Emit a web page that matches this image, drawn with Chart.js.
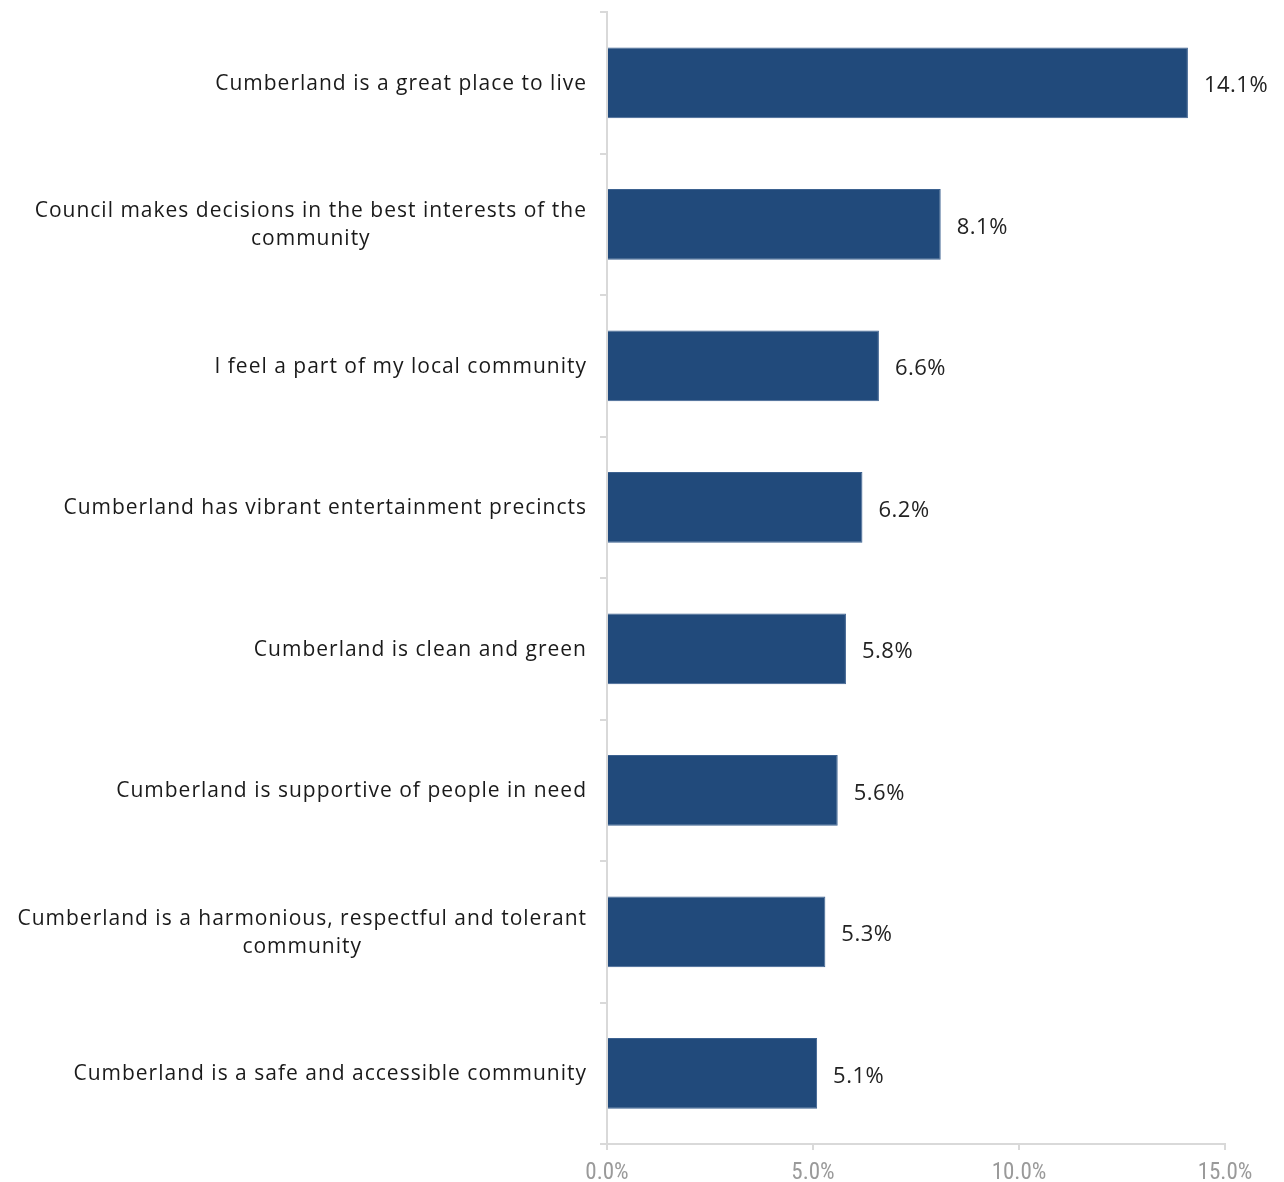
<!DOCTYPE html>
<html>
<head>
<meta charset="utf-8">
<title>Cumberland statements</title>
<script src="https://cdn.jsdelivr.net/npm/chart.js"></script>
<style>
  html, body { margin: 0; padding: 0; background: #fff; }
  #wrap { width: 1284px; height: 1182px; }
</style>
</head>
<body>
<div id="wrap"><canvas id="chart" width="1284" height="1182"></canvas></div>
<script>
// statements, one line per array entry
const statements = [
  ['Cumberland is a great place to live'],
  ['Council makes decisions in the best interests of the', 'community'],
  ['I feel a part of my local community'],
  ['Cumberland has vibrant entertainment precincts'],
  ['Cumberland is clean and green'],
  ['Cumberland is supportive of people in need'],
  ['Cumberland is a harmonious, respectful and tolerant', 'community'],
  ['Cumberland is a safe and accessible community'],
];
const shares = [14.1, 8.1, 6.6, 6.2, 5.8, 5.6, 5.3, 5.1];
const xTicks = [0, 5, 10, 15];

const BAR = '#214a7b';
const AXIS = '#d9d9d9';
const LABEL_FONT = '21px "Open Sans", sans-serif';
const VALUE_FONT = '22px "Open Sans", sans-serif';

// y labels: longest line right-aligned to the axis gap, extra lines centred under it
const yLabels = {
  id: 'yLabels',
  afterDraw(chart) {
    const { ctx, scales: { y } } = chart;
    ctx.save();
    ctx.font = LABEL_FONT;
    ctx.letterSpacing = '1px';
    ctx.fillStyle = '#1a1a1a';
    ctx.textAlign = 'center';
    ctx.textBaseline = 'middle';
    const right = y.right - 20;
    const lh = 28;
    statements.forEach((lines, i) => {
      const w = Math.max(...lines.map(l => ctx.measureText(l).width));
      const cx = right - w / 2;
      const cy = y.getPixelForValue(i) + 1;
      const top = cy - (lines.length - 1) * lh / 2;
      lines.forEach((l, k) => ctx.fillText(l, cx, top + k * lh));
    });
    ctx.restore();
  }
};

// value labels just past the end of each bar
const valueLabels = {
  id: 'valueLabels',
  afterDatasetsDraw(chart) {
    const { ctx } = chart;
    const meta = chart.getDatasetMeta(0);
    ctx.save();
    ctx.font = VALUE_FONT;
    ctx.letterSpacing = '0.5px';
    ctx.fillStyle = '#222';
    ctx.textAlign = 'left';
    ctx.textBaseline = 'middle';
    meta.data.forEach((bar, i) => {
      ctx.fillText(shares[i].toFixed(1) + '%', bar.x + 16, bar.y + 3);
    });
    ctx.restore();
  }
};

new Chart(document.getElementById('chart'), {
  type: 'bar',
  data: {
    labels: statements.map(s => s.join(' ')),
    datasets: [{
      data: shares,
      backgroundColor: BAR,
      borderColor: '#3d6290',
      borderWidth: 1,
      barPercentage: 0.5,
      categoryPercentage: 1.0,
    }]
  },
  options: {
    indexAxis: 'y',
    responsive: false,
    animation: false,
    layout: { padding: { top: 12, right: 59, bottom: 0, left: 0 } },
    plugins: {
      legend: { display: false },
      tooltip: { enabled: false },
    },
    scales: {
      x: {
        min: 0,
        max: 15,
        afterBuildTicks: (s) => { s.ticks = xTicks.map(v => ({ value: v })); },
        afterFit: (s) => { s.height = 38; },
        border: { display: true, color: AXIS, width: 2 },
        grid: { drawOnChartArea: false, drawTicks: true, tickLength: 6, color: AXIS, lineWidth: 2 },
        ticks: {
          color: '#9a9a9a',
          padding: 9,
          font: { family: '"Liberation Sans Narrow", "Roboto Condensed", sans-serif', size: 23 },
          callback: (v) => v.toFixed(1) + '%',
        }
      },
      y: {
        offset: true,
        afterFit: (s) => { s.width = 607; },
        border: { display: true, color: AXIS, width: 2 },
        grid: { offset: true, drawOnChartArea: false, drawTicks: true, tickLength: 7, color: AXIS, lineWidth: 2 },
        ticks: { display: false },
      }
    }
  },
  plugins: [yLabels, valueLabels]
});
</script>
</body>
</html>
